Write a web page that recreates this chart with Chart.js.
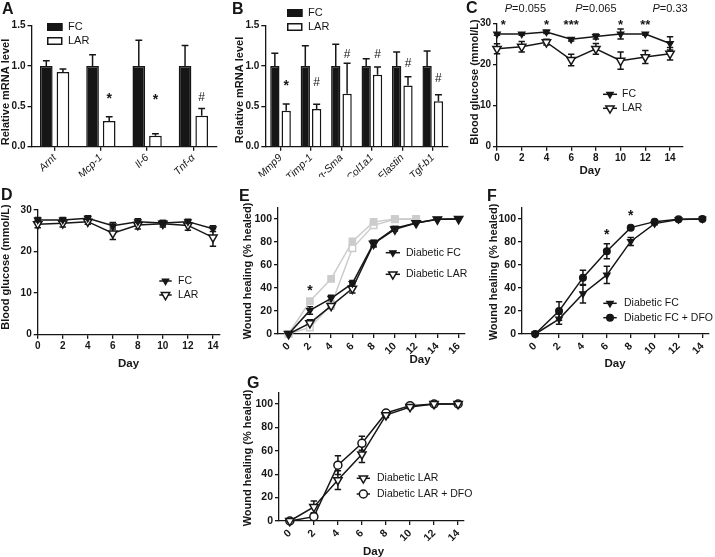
<!DOCTYPE html>
<html>
<head>
<meta charset="utf-8">
<script src="https://cdn.jsdelivr.net/npm/chart.js@4.4.1/dist/chart.umd.min.js"></script>
<style>
  html, body { margin: 0; padding: 0; background: #fff; }
  #fig { position: relative; width: 715px; height: 557px; overflow: hidden; }
  #fig canvas { position: absolute; left: 0; top: 0; }
</style>
</head>
<body>
<div id="fig"></div>
<script>
// ---------- data ----------
const genesA = ['Arnt', 'Mcp-1', 'Il-6', 'Tnf-\u03b1'];
const fcA = [1.0, 1.0, 1.0, 1.0];
const fcErrA = [0.066, 0.14, 0.32, 0.256];
const larA = [0.926, 0.32, 0.136, 0.384];
const larErrA = [0.037, 0.05, 0.024, 0.091];
const sigA = ['', '*', '*', '#'];
const sigYA = [0, 0.63, 0.62, 0.61];

const genesB = ['Mmp9', 'Timp-1', '\u03b1-Sma', 'Col1a1', 'Elastin', 'Tgf-b1'];
const fcB = [1.0, 1.0, 1.0, 1.0, 1.0, 1.0];
const fcErrB = [0.157, 0.25, 0.27, 0.09, 0.174, 0.186];
const larB = [0.446, 0.467, 0.657, 0.893, 0.76, 0.562];
const larErrB = [0.084, 0.058, 0.376, 0.095, 0.108, 0.083];
const sigB = ['*', '#', '#', '#', '#', '#'];
const sigYB = [0.79, 0.79, 1.14, 1.14, 1.025, 0.84];

const mrnaTicks = [0, 0.5, 1.0, 1.5];

const days14 = [0, 2, 4, 6, 8, 10, 12, 14];
const days16 = [0, 2, 4, 6, 8, 10, 12, 14, 16];
const days12 = [0, 2, 4, 6, 8, 10, 12];
const glucoseTicks = [0, 10, 20, 30];
const woundTicks = [0, 20, 40, 60, 80, 100];

// C: blood glucose, diabetic
const fcC = [27.4, 27.4, 27.9, 26.1, 26.8, 27.4, 27.4, 25.1];
const fcErrC = [0.3, 0.3, 0.4, 0.4, 0.6, 1.2, 0.3, 1.6];
const larC = [23.8, 24.3, 25.4, 21.1, 23.8, 20.9, 21.8, 22.6];
const larErrC = [1.2, 1.3, 0.7, 1.4, 1.3, 2.1, 1.6, 1.5];
const starDaysC = [0.5, 4, 6, 10, 12];
const starTextC = ['*', '*', '***', '*', '**'];
const pDaysC = [2.3, 8, 14];
const pTextC = ['=0.055', '=0.065', '=0.33'];

// D: blood glucose, non-diabetic
const fcD = [27.6, 27.6, 28.0, 26.2, 27.2, 26.9, 27.2, 25.5];
const fcErrD = [0.6, 0.6, 0.6, 0.8, 0.7, 0.6, 0.6, 0.7];
const larD = [26.6, 26.8, 27.2, 24.4, 26.4, 26.7, 26.3, 23.4];
const larErrD = [0.9, 0.9, 0.6, 1.5, 1.0, 0.8, 1.2, 2.1];

// E: wound healing
const fcE = [0, 20.5, 31, 44, 79, 92, 96.5, 99.7, 100];
const fcErrE = [0, 3.3, 2.6, 2.6, 2.5, 1.5, 0, 0, 0];
const larE = [0, 9.5, 24.5, 39.5, 78.5, 91, 96.5, 99.7, 100];
const larErrE = [0, 3, 2.3, 3.9, 2.9, 1.5, 0, 0, 0];
const ctrlFcE = [0, 28.5, 48, 80.5, 97.5, 100, 100];
const ctrlLarE = [0, 5.7, 25, 74.5, 94.5, 99.8, 100];
const starE = [2, 39.7];

// F: diabetic FC +/- DFO
const fcF = [0, 13, 35, 51.4, 80.5, 96, 99.5, 100];
const fcErrF = [0, 4.5, 8, 7.5, 3.5, 1, 0, 0];
const dfoF = [0, 20, 49, 72, 92.5, 97.7, 99.7, 100];
const dfoErrF = [0, 8, 6.5, 6.5, 1, 0, 0, 0];
const starDaysF = [6, 8];
const starYF = [89, 105];

// G: diabetic LAR +/- DFO
const larG = [0, 12, 35, 57, 90.5, 97.5, 100, 100];
const larErrG = [0, 5, 8, 7, 2, 1, 0, 0];
const dfoG = [0, 3.7, 47.7, 66.4, 92.3, 98.6, 100, 100];
const dfoErrG = [0, 3, 8, 6, 1.5, 1, 0, 0];

// ---------- look ----------
const W = 715, H = 557, YW = 24, XH = 30;
const INK = '#161616';
const GRAY = '#cccccc';
const FONT = '"Liberation Sans", Arial, Helvetica, sans-serif';
Chart.defaults.font.family = FONT;
Chart.defaults.color = INK;

const mkFilledTri = {shape: 'triangle', rot: 180, r: 3.8, fill: INK, stroke: INK, bw: 1.2};
const mkOpenTri = {shape: 'triangle', rot: 180, r: 4.8, fill: '#fff', stroke: INK, bw: 1.5};
const mkFilledDot = {shape: 'circle', rot: 0, r: 3.4, fill: INK, stroke: INK, bw: 1.2};
const mkOpenDot = {shape: 'circle', rot: 0, r: 4.0, fill: '#fff', stroke: INK, bw: 1.5};
const mkGraySq = {shape: 'rect', rot: 0, r: 4.6, fill: GRAY, stroke: GRAY, bw: 1.2};
const mkGrayOpenSq = {shape: 'rect', rot: 0, r: 4.6, fill: '#fff', stroke: GRAY, bw: 1.5};

// plot areas in page pixels
const frames = {
  A: {l: 31.5, r: 216.5, t: 25.7, b: 146.7},
  B: {l: 265.3, r: 448, t: 25.7, b: 146.7},
  C: {l: 497, r: 682.4, t: 23.3, b: 146.7},
  D: {l: 37.7, r: 219.2, t: 210, b: 334.7},
  E: {l: 278, r: 465, t: 207.5, b: 334},
  F: {l: 522, r: 708.4, t: 207.5, b: 334},
  G: {l: 279, r: 464.1, t: 392.3, b: 521},
};

const fig = document.getElementById('fig');

// ---------- helpers ----------
function linearAxis(min, max, ticks, size, rot, fmt) {
  return {
    type: 'linear', min: min, max: max,
    afterBuildTicks: s => { s.ticks = ticks.map(v => ({value: v})); },
    border: {display: true, color: INK, width: 1.3},
    grid: {drawOnChartArea: false, drawTicks: true, tickLength: 4, color: INK, lineWidth: 1.3},
    ticks: {font: {size: size, weight: 'bold'}, color: INK, padding: 2, autoSkip: false,
            minRotation: rot, maxRotation: rot, callback: fmt || (v => String(v))},
  };
}

function catAxis(size) {
  return {
    type: 'category', offset: true,
    border: {display: true, color: INK, width: 1.3},
    grid: {offset: false, drawOnChartArea: false, drawTicks: true, tickLength: 4, color: INK, lineWidth: 1.3},
    ticks: {font: {size: size, style: 'italic'}, color: INK, padding: 1, autoSkip: false,
            minRotation: 45, maxRotation: 45},
  };
}

function series(days, vals, errs, mk, color) {
  return {
    data: days.map((d, i) => ({x: d, y: vals[i]})),
    errors: errs, capHalf: 3.2,
    borderColor: color || INK, borderWidth: 1.5, tension: 0, clip: false,
    pointStyle: mk.shape, pointRotation: mk.rot, pointRadius: mk.r,
    pointBackgroundColor: mk.fill, pointBorderColor: mk.stroke, pointBorderWidth: mk.bw,
  };
}

const errorBars = {
  id: 'errorBars',
  beforeDatasetsDraw(chart) {
    const ctx = chart.ctx, ys = chart.scales.y;
    chart.data.datasets.forEach((ds, i) => {
      if (!ds.errors) return;
      const meta = chart.getDatasetMeta(i);
      meta.data.forEach((el, j) => {
        const e = ds.errors[j];
        if (!e) return;
        const raw = ds.data[j];
        const v = typeof raw === 'object' ? raw.y : raw;
        const top = ys.getPixelForValue(v + e);
        const bot = ds.upOnly ? ys.getPixelForValue(v) : ys.getPixelForValue(v - e);
        const cw = ds.capHalf;
        ctx.save();
        ctx.strokeStyle = INK;
        ctx.lineWidth = 1.5;
        ctx.beginPath();
        ctx.moveTo(el.x, top); ctx.lineTo(el.x, bot);
        ctx.moveTo(el.x - cw, top); ctx.lineTo(el.x + cw, top);
        if (!ds.upOnly) { ctx.moveTo(el.x - cw, bot); ctx.lineTo(el.x + cw, bot); }
        ctx.stroke();
        ctx.restore();
      });
    });
  }
};

function txt(ctx, s, x, y, font, align) {
  ctx.font = font;
  ctx.fillStyle = INK;
  ctx.textAlign = align || 'center';
  ctx.textBaseline = 'middle';
  ctx.fillText(s, x, y);
}
function vtxt(ctx, s, x, y) {
  ctx.save();
  ctx.translate(x, y);
  ctx.rotate(-Math.PI / 2);
  txt(ctx, s, 0, 0, 'bold 11px ' + FONT);
  ctx.restore();
}
function letter(ctx, s, x, y) {
  ctx.font = 'bold 16px ' + FONT;
  ctx.fillStyle = INK;
  ctx.textAlign = 'left';
  ctx.textBaseline = 'alphabetic';
  ctx.fillText(s, x, y);
}
function sig(ctx, s, x, y, starSize) {
  if (!s) return;
  if (s[0] === '*') txt(ctx, s, x, y + 0.22 * starSize, 'bold ' + starSize + 'px ' + FONT);
  else txt(ctx, s, x, y, '12px ' + FONT);
}
function marker(ctx, mk, x, y) {
  ctx.save();
  ctx.fillStyle = mk.fill;
  ctx.strokeStyle = mk.stroke;
  ctx.lineWidth = mk.bw;
  Chart.helpers.drawPoint(ctx, {pointStyle: mk.shape, rotation: mk.rot, radius: mk.r, borderWidth: mk.bw}, x, y);
  ctx.restore();
}
function lineKey(ctx, x1, x2, y, mk, label, tx) {
  ctx.save();
  ctx.strokeStyle = INK; ctx.lineWidth = 1.5;
  ctx.beginPath(); ctx.moveTo(x1, y); ctx.lineTo(x2, y); ctx.stroke();
  ctx.restore();
  marker(ctx, mk, (x1 + x2) / 2, y);
  txt(ctx, label, tx, y, '10.5px ' + FONT, 'left');
}
function boxKey(ctx, x, y, filled, label, tx) {
  ctx.save();
  ctx.fillStyle = filled ? INK : '#fff';
  ctx.strokeStyle = INK; ctx.lineWidth = 1.5;
  ctx.fillRect(x, y - 4, 15.5, 8);
  ctx.strokeRect(x + 0.75, y - 3.25, 14, 6.5);
  ctx.restore();
  txt(ctx, label, tx, y, '11px ' + FONT, 'left');
}
function pText(ctx, s, cx, y) {
  ctx.font = 'italic 11px ' + FONT;
  const wp = ctx.measureText('P').width;
  ctx.font = '11px ' + FONT;
  const wr = ctx.measureText(s).width;
  const x0 = cx - (wp + wr) / 2;
  txt(ctx, 'P', x0, y, 'italic 11px ' + FONT, 'left');
  txt(ctx, s, x0 + wp, y, '11px ' + FONT, 'left');
}

function makeChart(frame, config, decor) {
  const c = document.createElement('canvas');
  c.width = W; c.height = H;
  c.style.width = W + 'px'; c.style.height = H + 'px';
  fig.appendChild(c);
  const o = config.options;
  o.responsive = false;
  o.animation = false;
  o.events = [];
  o.layout = {padding: {left: frame.l - YW, top: frame.t, right: W - frame.r, bottom: H - frame.b - XH}};
  o.plugins = {legend: {display: false}, tooltip: {enabled: false}};
  o.scales.x.afterFit = s => { s.height = XH; };
  o.scales.y.afterFit = s => { s.width = YW; };
  config.plugins = [errorBars, {id: 'decor', afterDraw(chart) {
    const ctx = chart.ctx; ctx.save(); decor(chart, ctx); ctx.restore();
  }}];
  return new Chart(c, config);
}

function barChart(frame, labels, fc, fcErr, lar, larErr, catPct, barPct, capHalf, sigs, sigYs, keyX, keyY, letterPos, titlePos) {
  makeChart(frame, {
    type: 'bar',
    data: {
      labels: labels,
      datasets: [
        {label: 'FC', data: fc, errors: fcErr, upOnly: true, capHalf: capHalf,
         backgroundColor: INK, borderColor: INK, borderWidth: 1.5,
         categoryPercentage: catPct, barPercentage: barPct},
        {label: 'LAR', data: lar, errors: larErr, upOnly: true, capHalf: capHalf,
         backgroundColor: '#fff', borderColor: INK, borderWidth: 1.5,
         categoryPercentage: catPct, barPercentage: barPct},
      ]
    },
    options: {
      scales: {
        x: catAxis(10.5),
        y: linearAxis(0, 1.5, mrnaTicks, 10, 0, v => v.toFixed(1)),
      }
    }
  }, (chart, ctx) => {
    letter(ctx, letterPos[2], letterPos[0], letterPos[1]);
    vtxt(ctx, 'Relative mRNA level', titlePos[0], titlePos[1]);
    boxKey(ctx, keyX, keyY, true, 'FC', keyX + 21);
    boxKey(ctx, keyX, keyY + 14, false, 'LAR', keyX + 21);
    const meta = chart.getDatasetMeta(1);
    sigs.forEach((s, i) => sig(ctx, s, meta.data[i].x, chart.scales.y.getPixelForValue(sigYs[i]), 14));
  });
}

// ---------- panels ----------
barChart(frames.A, genesA, fcA, fcErrA, larA, larErrA, 0.72, 0.76, 3.4, sigA, sigYA, 47, 27, [2, 14, 'A'], [6, 92]);
barChart(frames.B, genesB, fcB, fcErrB, larB, larErrB, 0.745, 0.82, 3.5, sigB, sigYB, 287, 13, [232, 14, 'B'], [240, 90]);

// C
makeChart(frames.C, {
  type: 'line',
  data: {datasets: [
    series(days14, fcC, fcErrC, mkFilledTri),
    series(days14, larC, larErrC, mkOpenTri),
  ]},
  options: {scales: {
    x: linearAxis(0, 15, days14, 10, 0),
    y: linearAxis(0, 30, glucoseTicks, 10, 0),
  }}
}, (chart, ctx) => {
  const xs = chart.scales.x, ys = chart.scales.y;
  letter(ctx, 'C', 466, 13);
  vtxt(ctx, 'Blood glucose (mmol/L)', 474.5, 82);
  txt(ctx, 'Day', 590, 171, 'bold 11.5px ' + FONT);
  starDaysC.forEach((d, i) => sig(ctx, starTextC[i], xs.getPixelForValue(d), ys.getPixelForValue(30.2), 13));
  pDaysC.forEach((d, i) => pText(ctx, pTextC[i], xs.getPixelForValue(d), ys.getPixelForValue(33.5)));
  lineKey(ctx, 603, 617, 94.3, mkFilledTri, 'FC', 622);
  lineKey(ctx, 603, 617, 108.3, mkOpenTri, 'LAR', 622);
});

// D
makeChart(frames.D, {
  type: 'line',
  data: {datasets: [
    series(days14, fcD, fcErrD, mkFilledTri),
    series(days14, larD, larErrD, mkOpenTri),
  ]},
  options: {scales: {
    x: linearAxis(0, 14.5, days14, 10, 0),
    y: linearAxis(0, 30, glucoseTicks, 10, 0),
  }}
}, (chart, ctx) => {
  letter(ctx, 'D', 1, 200);
  vtxt(ctx, 'Blood glucose (mmol/L)', 6.2, 267);
  txt(ctx, 'Day', 128.5, 363.5, 'bold 11.5px ' + FONT);
  lineKey(ctx, 159.3, 171.7, 281, mkFilledTri, 'FC', 178);
  lineKey(ctx, 159.3, 171.7, 295, mkOpenTri, 'LAR', 178);
});

// E
makeChart(frames.E, {
  type: 'line',
  data: {datasets: [
    series(days16, fcE, fcErrE, mkFilledTri),
    series(days16, larE, larErrE, mkOpenTri),
    series(days12, ctrlFcE, null, mkGraySq, GRAY),
    series(days12, ctrlLarE, null, mkGrayOpenSq, GRAY),
  ]},
  options: {scales: {
    x: linearAxis(-1, 16.6, days16, 10.5, 45),
    y: linearAxis(0, 110, woundTicks, 10.5, 0),
  }}
}, (chart, ctx) => {
  const xs = chart.scales.x, ys = chart.scales.y;
  letter(ctx, 'E', 239, 201);
  vtxt(ctx, 'Wound healing (% healed)', 248, 271);
  txt(ctx, 'Day', 420, 360, 'bold 11.5px ' + FONT);
  sig(ctx, '*', xs.getPixelForValue(starE[0]), ys.getPixelForValue(starE[1]), 14);
  lineKey(ctx, 385.7, 400, 252.7, mkFilledTri, 'Diabetic FC', 406);
  lineKey(ctx, 385.7, 400, 274.3, mkOpenTri, 'Diabetic LAR', 406);
});

// F
makeChart(frames.F, {
  type: 'line',
  data: {datasets: [
    series(days14, fcF, fcErrF, mkFilledTri),
    series(days14, dfoF, dfoErrF, mkFilledDot),
  ]},
  options: {scales: {
    x: linearAxis(-1.1, 14.5, days14, 10.5, 45),
    y: linearAxis(0, 110, woundTicks, 10.5, 0),
  }}
}, (chart, ctx) => {
  const xs = chart.scales.x, ys = chart.scales.y;
  letter(ctx, 'F', 487, 201);
  vtxt(ctx, 'Wound healing (% healed)', 494, 272);
  txt(ctx, 'Day', 615, 363.5, 'bold 11.5px ' + FONT);
  starDaysF.forEach((d, i) => sig(ctx, '*', xs.getPixelForValue(d), ys.getPixelForValue(starYF[i]), 14));
  lineKey(ctx, 603.3, 616.7, 303.3, mkFilledTri, 'Diabetic FC', 624);
  lineKey(ctx, 603.3, 616.7, 317.7, mkFilledDot, 'Diabetic FC + DFO', 624);
});

// G
makeChart(frames.G, {
  type: 'line',
  data: {datasets: [
    series(days14, larG, larErrG, mkOpenTri),
    series(days14, dfoG, dfoErrG, mkOpenDot),
  ]},
  options: {scales: {
    x: linearAxis(-0.9, 14.5, days14, 10.5, 45),
    y: linearAxis(0, 110, woundTicks, 10.5, 0),
  }}
}, (chart, ctx) => {
  letter(ctx, 'G', 247, 388);
  vtxt(ctx, 'Wound healing (% healed)', 247.7, 458);
  txt(ctx, 'Day', 373.5, 551.5, 'bold 11.5px ' + FONT);
  lineKey(ctx, 356.7, 370, 478.3, mkOpenTri, 'Diabetic LAR', 377);
  lineKey(ctx, 356.7, 370, 494, mkOpenDot, 'Diabetic LAR + DFO', 377);
});
</script>
</body>
</html>
